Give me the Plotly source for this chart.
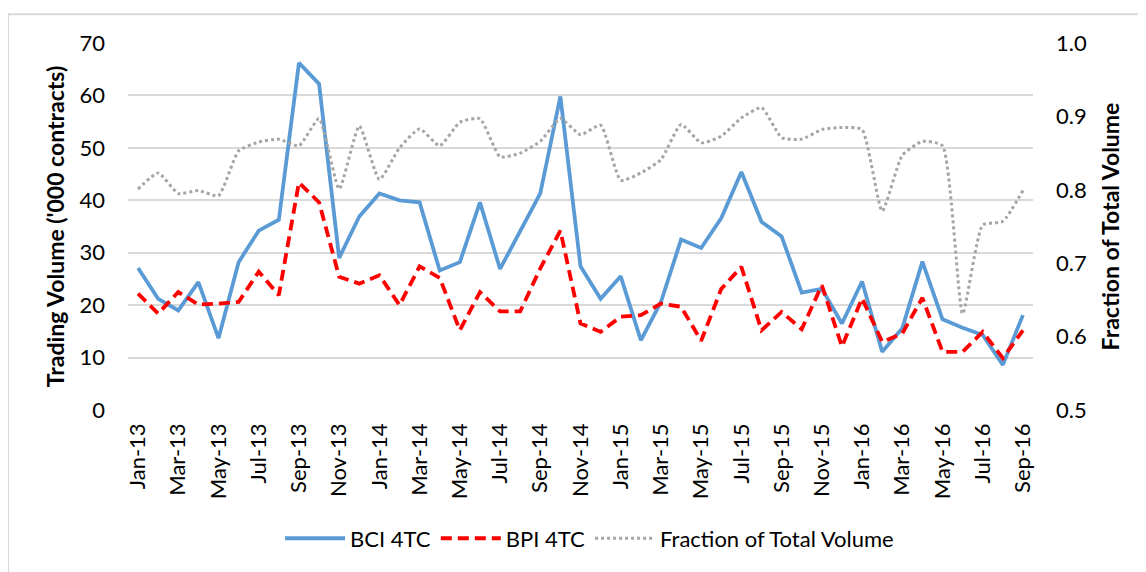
import plotly.graph_objects as go

# Mesi (Jan-13 .. Sep-16)
mesi = ["Jan-13", "Feb-13", "Mar-13", "Apr-13", "May-13", "Jun-13", "Jul-13", "Aug-13", "Sep-13", "Oct-13", "Nov-13", "Dec-13",
        "Jan-14", "Feb-14", "Mar-14", "Apr-14", "May-14", "Jun-14", "Jul-14", "Aug-14", "Sep-14", "Oct-14", "Nov-14", "Dec-14",
        "Jan-15", "Feb-15", "Mar-15", "Apr-15", "May-15", "Jun-15", "Jul-15", "Aug-15", "Sep-15", "Oct-15", "Nov-15", "Dec-15",
        "Jan-16", "Feb-16", "Mar-16", "Apr-16", "May-16", "Jun-16", "Jul-16", "Aug-16", "Sep-16"]

bci_4tc = [27.1, 21.2, 19.0, 24.4, 13.7, 28.2, 34.2, 36.3, 66.2, 62.2, 29.0, 36.9,
           41.3, 40.0, 39.6, 26.6, 28.2, 39.6, 26.9, 34.0, 41.3, 59.8, 27.4, 21.2,
           25.5, 13.3, 20.6, 32.5, 30.9, 36.6, 45.4, 35.9, 33.1, 22.4, 23.1, 16.5,
           24.5, 11.1, 15.6, 28.3, 17.3, 15.7, 14.3, 8.6, 18.1]

bpi_4tc = [22.2, 18.4, 22.5, 20.1, 20.3, 20.6, 26.4, 21.9, 43.4, 39.6, 25.4, 24.1,
           25.7, 20.0, 27.4, 25.2, 15.2, 22.5, 18.8, 18.8, 27.0, 34.2, 16.5, 14.9,
           17.8, 18.1, 20.3, 19.7, 13.2, 23.1, 27.3, 15.2, 18.7, 15.4, 23.8, 12.1,
           21.3, 13.0, 14.6, 21.4, 11.1, 11.1, 14.9, 9.9, 15.2]

frazione = [0.801, 0.823, 0.795, 0.799, 0.792, 0.853, 0.865, 0.869, 0.860, 0.897, 0.801, 0.887,
            0.814, 0.857, 0.883, 0.860, 0.892, 0.897, 0.845, 0.850, 0.866, 0.897, 0.875, 0.888,
            0.813, 0.823, 0.841, 0.889, 0.864, 0.873, 0.898, 0.912, 0.871, 0.869, 0.882, 0.885,
            0.882, 0.771, 0.847, 0.866, 0.860, 0.631, 0.752, 0.757, 0.799]

FONT = "Lato"

# Grafico
fig = go.Figure()
fig.add_trace(go.Scatter(x=mesi, y=bci_4tc, name="BCI 4TC", mode="lines",
                         line=dict(color="#5B9BD5", width=3.8)))
fig.add_trace(go.Scatter(x=mesi, y=bpi_4tc, name="BPI 4TC", mode="lines",
                         line=dict(color="#FF0000", width=3.8, dash="11px,6px")))
fig.add_trace(go.Scatter(x=mesi, y=frazione, name="Fraction of Total Volume", mode="lines", yaxis="y2",
                         line=dict(color="#A5A5A5", width=3, dash="dot", shape="spline", smoothing=0.5)))

# la pagina ha 8px di margine, quindi la figura e' un po' piu' piccola
fig.update_layout(
    width=1138, height=564,
    margin=dict(l=120, r=113, t=35, b=160),
    paper_bgcolor="white", plot_bgcolor="white",
    font=dict(family=FONT, size=22, color="#000000"),
    showlegend=True,
    legend=dict(orientation="h", x=0.51, xanchor="center", y=-0.35, yanchor="middle",
                font=dict(size=22), itemwidth=60, traceorder="normal"),
    xaxis=dict(type="category", range=[-0.5, 44.5], tickmode="array",
               tickvals=mesi[::2], ticktext=mesi[::2], tickangle=-90,
               showgrid=False, showline=False, ticks="", ticklabelstandoff=8),
    yaxis=dict(range=[0, 70], dtick=10, showgrid=True, gridcolor="#D9D9D9", gridwidth=1.5,
               zeroline=False, showline=False, ticks="", ticklabelstandoff=22,
               title=dict(text="<b>Trading Volume ('000 contracts)</b>", standoff=8, font=dict(size=23))),
    yaxis2=dict(range=[0.5, 1.0], dtick=0.1, tickformat=".1f", overlaying="y", side="right",
                showgrid=False, zeroline=False, showline=False, ticks="", ticklabelstandoff=22,
                title=dict(text="<b>Fraction of Total Volume</b>", standoff=16, font=dict(size=23))),
    shapes=[
        dict(type="line", xref="paper", yref="paper", x0=-0.1326, x1=-0.1326, y0=1.0786, y1=-0.5,
             line=dict(color="#D9D9D9", width=2)),
        dict(type="line", xref="paper", yref="paper", x0=-0.1326, x1=1.2, y0=1.0786, y1=1.0786,
             line=dict(color="#D9D9D9", width=2)),
    ],
)

fig.write_html("out.html")
